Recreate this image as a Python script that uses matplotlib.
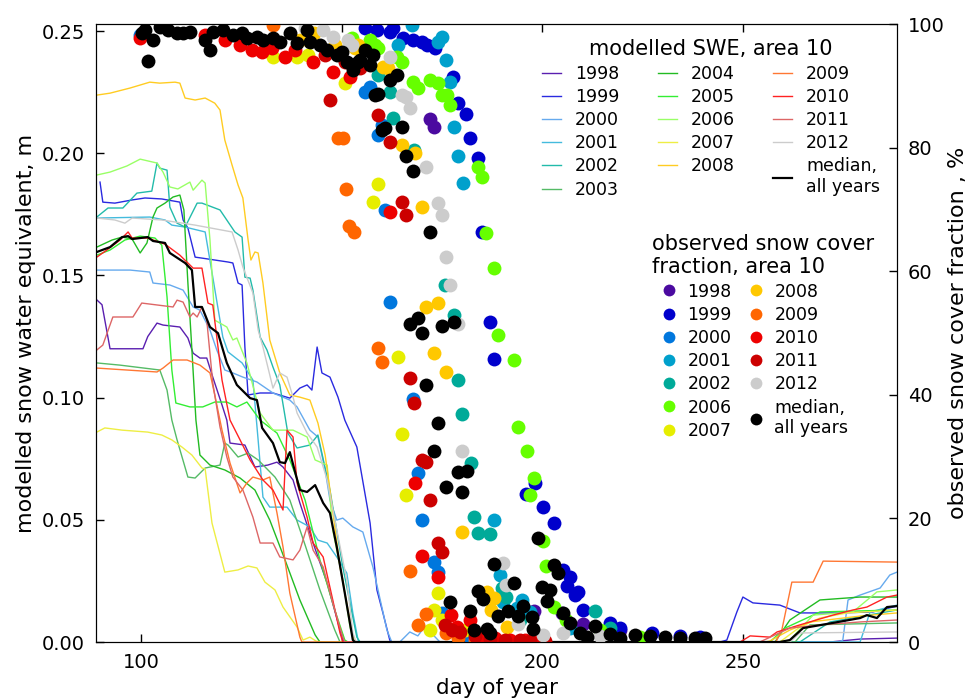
import matplotlib

matplotlib.use("Agg")
import matplotlib.pyplot as plt

# ---- modelled SWE (m), area 10 -------------------------------------------
swe_day_1998 = [89, 90.3, 92.3, 100.5, 101.7, 104, 105.5, 109.7, 111.7, 113, 114.7, 116.4, 117.9, 120.2, 121.4,
                122.2, 125.9, 128.4, 131.6, 133.9, 135.4, 137.9, 139.6, 142.9, 146.4, 150.3, 150.8, 271.7, 279.2, 288.4]
swe_1998 = [0.140, 0.138, 0.120, 0.120, 0.125, 0.1305, 0.1297, 0.1289, 0.1244, 0.1182, 0.1162, 0.1162, 0.1084, 0.097,
            0.0908, 0.0814, 0.0806, 0.0716, 0.0724, 0.0736, 0.0716, 0.0663, 0.0569, 0.0405, 0.0241, 0.0008, 0, 0, 0.0012, 0.0016]

swe_day_1999 = [89.8, 90.5, 93.5, 97.8, 101, 105.2, 109.7, 110.5, 111.7, 113.5, 115.2, 121.7, 122.9, 124.2, 125.2,
                125.9, 126.7, 129.7, 132.9, 137.1, 139.6, 141.4, 142.6, 143.9, 145.1, 147.1, 149.1, 150.8, 153.8,
                157.1, 158.8, 160.3, 162, 162.5, 244.3, 246, 248.5, 250, 252.5, 259.2, 264.2, 274.2, 282.4, 288.4]
swe_1999 = [0.1882, 0.180, 0.1796, 0.1809, 0.1817, 0.1813, 0.180, 0.1727, 0.1694, 0.1575, 0.1571, 0.1555, 0.1551,
            0.1469, 0.1461, 0.1207, 0.1011, 0.1019, 0.1019, 0.0998, 0.1039, 0.1052, 0.1031, 0.1207, 0.1101, 0.1084,
            0.1002, 0.0908, 0.0798, 0.0487, 0.0213, 0.0119, 0.0008, 0, 0, 0.0008, 0.0123, 0.0184, 0.016, 0.0151,
            0.0119, 0.0119, 0.0123, 0.0147]

swe_day_2000 = [89, 97.3, 102.2, 103, 107.2, 110.5, 113, 114.7, 117.2, 118.9, 120.9, 122.9, 125.4, 128.9, 132.9,
                137.1, 138.9, 142.1, 144.1, 145.9, 147.1, 148.8, 150.3, 152.8, 155.3, 157.8, 161.3, 162.5, 164.5,
                167, 169, 170.8, 172.8, 174.5, 274, 274.9, 276.2, 279.2, 284.2, 286.6, 288.4]
swe_2000 = [0.1522, 0.1522, 0.1514, 0.1469, 0.1461, 0.144, 0.1371, 0.1358, 0.1277, 0.1195, 0.1113, 0.1101, 0.1084,
            0.1064, 0.1019, 0.099, 0.0962, 0.0867, 0.0839, 0.0704, 0.0581, 0.0499, 0.0507, 0.0471, 0.045, 0.0307,
            0.0049, 0, 0, 0.0041, 0.0025, 0.0065, 0.0029, 0, 0, 0.0008, 0.0172, 0.0192, 0.0221, 0.0274, 0.0286]

swe_day_2001 = [89, 102.2, 106, 107.7, 111, 116, 117.9, 120.4, 121.7, 125.2, 127.9, 129.2, 130.4, 132.1, 136.4,
                138.9, 142.1, 144.1, 146.4, 148.8, 151.3, 152.8, 154.1, 154.6, 279.2, 281.7, 288.4]
swe_2001 = [0.1735, 0.1739, 0.1727, 0.1706, 0.1698, 0.1678, 0.1493, 0.1248, 0.1187, 0.1142, 0.1072, 0.0827, 0.0593,
            0.0552, 0.0552, 0.0499, 0.0471, 0.0417, 0.0405, 0.0348, 0.0282, 0.0119, 0.0008, 0, 0, 0.0123, 0.0151]

swe_day_2002 = [89, 91.8, 95.5, 99, 102.7, 104, 104.7, 106.5, 107.2, 109, 111, 114, 115.2, 119.7, 123.4, 125.2,
                125.9, 127.2, 127.9, 129.7, 131.4, 132.9, 134.6, 136.6, 138.9, 142.1, 144.1, 147.1, 150.3, 153.8,
                154.6, 264.2, 271.7, 288.4]
swe_2002 = [0.1739, 0.1776, 0.1776, 0.1837, 0.1845, 0.196, 0.1939, 0.1931, 0.178, 0.1714, 0.1698, 0.1796, 0.1796,
            0.1768, 0.1678, 0.1657, 0.1493, 0.1489, 0.144, 0.1248, 0.1195, 0.1125, 0.1052, 0.0855, 0.0794, 0.0806,
            0.0847, 0.0622, 0.0307, 0.002, 0, 0, 0.0082, 0.0131]

swe_day_2003 = [89, 94.8, 104.7, 106.5, 107.7, 109, 111.7, 113.5, 116, 119.7, 120.9, 121.7, 124.2, 126.7, 129.2,
                133.4, 137.1, 140.9, 144.6, 148.3, 149.6, 263, 266.7, 288.4]
swe_2003 = [0.1142, 0.1133, 0.1113, 0.1031, 0.0908, 0.0827, 0.0675, 0.0671, 0.0712, 0.0724, 0.0814, 0.0806, 0.0757,
            0.0773, 0.0745, 0.0675, 0.0581, 0.0397, 0.0213, 0.0049, 0, 0, 0.007, 0.0078]

swe_day_2004 = [89, 92.8, 95.3, 97.8, 99.8, 101.5, 103, 104, 106, 108, 109.7, 110.7, 111.7, 112.7, 113.7, 114.7,
                117.2, 120.9, 124.7, 128.4, 132.1, 135.9, 139.6, 143.4, 144.6, 258, 261.7, 269.2, 279.2, 288.4]
swe_2004 = [0.1616, 0.1645, 0.1657, 0.1649, 0.1592, 0.1633, 0.1739, 0.1776, 0.1796, 0.1821, 0.1829, 0.1768, 0.1469,
            0.1195, 0.0908, 0.0765, 0.0724, 0.0704, 0.0671, 0.0622, 0.0499, 0.0336, 0.0172, 0.0029, 0, 0, 0.009,
            0.0172, 0.0184, 0.0184]

swe_day_2005 = [89, 92.3, 96, 99.8, 103.5, 105.2, 106.5, 107.7, 108.7, 112.2, 115.4, 118.4, 121.4, 123.9, 126.4,
                129.7, 133.9, 137.1, 140.9, 144.6, 148.3, 150.8, 151.6, 256.7, 260.5, 269.2, 288.4]
swe_2005 = [0.1583, 0.1604, 0.1645, 0.1661, 0.1653, 0.1624, 0.1412, 0.1113, 0.0978, 0.0962, 0.0962, 0.0982, 0.0982,
            0.0962, 0.0982, 0.0908, 0.0855, 0.0745, 0.0581, 0.0336, 0.0131, 0.0008, 0, 0, 0.0057, 0.0123, 0.0131]

swe_day_2006 = [89, 92.3, 96.5, 99.8, 104, 105.5, 107.2, 109.2, 112.2, 113, 115.2, 116, 117.2, 118.4, 121.4, 122.9,
                123.9, 126.4, 129.7, 132.9, 137.9, 141.4, 143.4, 146.4, 147.8, 150.3, 152.1, 153.1, 261, 261.7,
                267.5, 277.4, 283.4, 288.4]
swe_2006 = [0.1911, 0.1923, 0.1948, 0.1976, 0.196, 0.1923, 0.1862, 0.1854, 0.1882, 0.1849, 0.189, 0.1878, 0.1645,
            0.1317, 0.1289, 0.1236, 0.1244, 0.1142, 0.0937, 0.0867, 0.0867, 0.0839, 0.0745, 0.0724, 0.0458, 0.0254,
            0.0061, 0, 0, 0.0008, 0.011, 0.0123, 0.0205, 0.0213]

swe_day_2007 = [89, 91, 95.3, 101.7, 105.2, 107.7, 110.2, 112.7, 115.2, 116, 117.7, 120.9, 124.2, 126.7, 128.9,
                130.9, 133.4, 135.4, 138.9, 140.4, 142.1, 143.6, 144.6, 259.2, 264.2, 269.2, 276, 288.4]
swe_2007 = [0.0859, 0.0876, 0.0867, 0.0859, 0.0847, 0.0827, 0.0798, 0.0765, 0.0712, 0.0708, 0.0487, 0.0286, 0.0295,
            0.0311, 0.0303, 0.0245, 0.0213, 0.0143, 0.0061, 0.0008, 0.002, 0.0004, 0, 0, 0.0061, 0.0098, 0.0119, 0.0131]

swe_day_2008 = [89, 92.3, 97.3, 102.2, 104.7, 108.5, 109.7, 111, 113.5, 116, 118.4, 119.7, 120.9, 122.7, 124.2,
                125.4, 126.7, 127.4, 128.4, 129.2, 130.4, 132.1, 134.6, 137.1, 139.6, 142.1, 144.1, 145.9, 147.1,
                149.6, 151.6, 152.8, 153.6, 255.5, 256.7, 261.7, 266.7, 279.2, 288.4]
swe_2008 = [0.2238, 0.2246, 0.2267, 0.2291, 0.2287, 0.2291, 0.2287, 0.2226, 0.2218, 0.2226, 0.2205, 0.2177, 0.2054,
            0.1952, 0.187, 0.1817, 0.1645, 0.1563, 0.1596, 0.1592, 0.1469, 0.1236, 0.1101, 0.1011, 0.1002, 0.099,
            0.0896, 0.0765, 0.0622, 0.0307, 0.0131, 0.002, 0, 0, 0.0004, 0.0049, 0.0082, 0.0106, 0.0119]

swe_day_2009 = [89, 104, 105.5, 108, 111.5, 114.7, 117.2, 118.4, 120.2, 122.2, 124.7, 126.4, 127.9, 130.4, 132.1,
                133.9, 135.4, 137.1, 139.6, 140.1, 258.2, 259.7, 262.2, 267.5, 270, 288.4]
swe_2009 = [0.1121, 0.1105, 0.1121, 0.1154, 0.1154, 0.1133, 0.1101, 0.1011, 0.0867, 0.0732, 0.061, 0.0651, 0.0675,
            0.0663, 0.0675, 0.0528, 0.0389, 0.020, 0.002, 0, 0, 0.0049, 0.0245, 0.0245, 0.0331, 0.0327]

swe_day_2010 = [89, 91.5, 94.8, 96.8, 97.8, 101.7, 106, 109.7, 113, 115.2, 116.7, 117.9, 118.9, 120.2, 122.2, 124.7,
                127.2, 130.4, 132.9, 135.4, 136.4, 137.9, 138.9, 141.4, 142.9, 145.4, 147.8, 149.6, 150.3, 249.3,
                251.8, 256.7, 258.5, 264.2, 272.4, 277.4, 280.9, 285.9, 288.4]
swe_2010 = [0.1575, 0.1604, 0.1645, 0.1678, 0.1653, 0.1653, 0.1628, 0.1583, 0.153, 0.153, 0.1387, 0.1379, 0.1248,
            0.1072, 0.0908, 0.0827, 0.0745, 0.0663, 0.0622, 0.054, 0.0867, 0.0839, 0.0651, 0.0511, 0.0405, 0.0348,
            0.0172, 0.0037, 0, 0, 0.0025, 0.002, 0.0041, 0.007, 0.011, 0.0131, 0.0143, 0.0184, 0.0192]

swe_day_2011 = [89, 90.5, 93, 98, 100.2, 108, 109, 110.5, 112.2, 113, 114, 115.2, 116.4, 117.9, 119.7, 121.4, 122.9,
                125.4, 127.9, 129.7, 132.9, 134.6, 137.9, 139.6, 141.4, 142.9, 145.4, 147.8, 150.3, 150.8, 254.2,
                261.7, 269.2, 279.2, 288.4]
swe_2011 = [0.1195, 0.1215, 0.133, 0.133, 0.1387, 0.1371, 0.1399, 0.1391, 0.133, 0.1346, 0.133, 0.1371, 0.1317,
            0.106, 0.088, 0.0757, 0.0675, 0.0622, 0.0511, 0.0405, 0.0405, 0.0348, 0.0336, 0.0376, 0.0471, 0.0376,
            0.0307, 0.016, 0.002, 0, 0, 0.0057, 0.007, 0.0082, 0.009]

swe_day_2012 = [89, 93.5, 96, 97.8, 105.2, 113.5, 122.7, 124.2, 125.4, 127.9, 129.2, 130.4, 132.9, 134.6, 136.4,
                137.9, 138.9, 141.4, 143.9, 146.4, 148.8, 151.3, 152.8, 153.6, 261.7, 264.2, 288.4]
swe_2012 = [0.1735, 0.1727, 0.1714, 0.1735, 0.1727, 0.1706, 0.1678, 0.1604, 0.1534, 0.1428, 0.1277, 0.1207, 0.1039,
            0.1101, 0.1084, 0.1002, 0.0937, 0.0855, 0.0798, 0.0663, 0.0458, 0.0254, 0.0037, 0, 0, 0.0037, 0.0041]

swe_day_median = [89, 92.3, 95.3, 96.8, 97.8, 101.7, 103, 106, 107.2, 111, 112.7, 113.5, 115.2, 117.2, 119.2,
                  121.4, 123.9, 127.2, 128.9, 130.2, 132.9, 134.6, 135.9, 137.1, 139.6, 141.4, 143.4, 145.4, 147.1,
                  148.8, 150.8, 152.8, 153.3, 259.2, 261.7, 265, 272.4, 279.2, 280.9, 283.4, 285.9, 288.4]
swe_median = [0.1596, 0.1616, 0.1657, 0.1661, 0.1649, 0.1657, 0.1641, 0.1633, 0.1592, 0.1551, 0.1522, 0.1371,
              0.1371, 0.1289, 0.1264, 0.1142, 0.1052, 0.0998, 0.099, 0.0876, 0.0814, 0.0736, 0.0732, 0.0777, 0.0622,
              0.0614, 0.0642, 0.0569, 0.0528, 0.0389, 0.020, 0.0008, 0, 0, 0.0008, 0.0057, 0.0078, 0.0098, 0.011,
              0.0098, 0.0143, 0.0147]

# ---- observed snow cover fraction (%), area 10 ----------------------------
obs_day_1998 = [172.0, 173.0, 197.9, 204.9, 210.1, 219.4]
obs_1998 = [84.6, 83.3, 5.0, 4.7, 2.9, 1.9]

obs_day_1999 = [155.8, 158.8, 162.0, 162.8, 165.3, 167.8, 170.0, 171.3, 173.3, 177.7, 179.0, 181.0, 182.0, 184.0,
                185.0, 187.0, 188.0, 195.9, 198.2, 200.2, 202.9, 205.2, 206.2, 206.9, 208.2, 208.9, 210.1, 216.9,
                219.4, 227.3, 234.3, 239.3]
obs_1999 = [99.4, 99.0, 98.7, 99.4, 97.7, 97.4, 97.1, 96.6, 96.1, 91.4, 87.2, 85.4, 81.6, 78.3, 66.3, 51.8, 45.8,
            23.9, 25.7, 21.8, 19.3, 11.7, 9.1, 10.5, 7.6, 8.1, 5.2, 3.1, 2.3, 1.5, 1.0, 0.8]

obs_day_2000 = [99.8, 155.8, 157.1, 159.1, 160.1, 160.8, 162.0, 167.8, 169.0, 170.0, 173.0, 174.0, 175.0, 182.0]
obs_2000 = [98.2, 89.0, 89.8, 82.0, 83.7, 69.9, 55.0, 39.3, 27.3, 19.7, 12.9, 11.3, 4.7, 0.8]

obs_day_2001 = [164.0, 167.5, 174.0, 175.0, 176.0, 177.0, 178.0, 179.0, 180.2, 188.0, 189.5, 190.2, 193.7, 194.9,
                196.9, 206.9]
obs_2001 = [96.6, 99.8, 97.1, 97.9, 94.2, 90.6, 83.3, 78.6, 74.3, 19.7, 10.8, 6.5, 5.5, 6.8, 4.9, 2.3]

obs_day_2002 = [159.1, 162.0, 162.8, 168.0, 175.8, 178.0, 179.0, 180.0, 182.2, 183.0, 184.0, 187.0, 190.0, 191.0,
                194.4, 213.1, 216.9]
obs_2002 = [91.7, 89.0, 84.8, 79.6, 57.8, 52.9, 42.4, 36.9, 29.0, 20.2, 17.6, 17.5, 8.7, 7.3, 3.6, 5.0, 2.3]

obs_day_2006 = [152.6, 157.1, 158.3, 159.1, 163.8, 165.0, 167.8, 169.0, 172.0, 174.0, 175.0, 176.3, 177.0, 184.0,
                185.0, 186.0, 188.0, 189.0, 193.0, 194.0, 196.2, 197.9, 196.9, 200.2, 200.9, 202.9, 205.9, 214.4,
                224.3]
obs_2006 = [97.7, 97.4, 96.6, 96.1, 94.7, 93.9, 90.6, 89.6, 90.9, 90.5, 88.5, 88.5, 86.9, 76.9, 75.2, 66.2, 60.5,
            49.7, 45.6, 34.8, 30.9, 26.5, 23.8, 16.3, 12.3, 5.7, 3.6, 1.9, 0.8]

obs_day_2007 = [132.9, 138.9, 141.6, 150.8, 157.8, 159.1, 164.0, 165.0, 166.0, 174.0, 173.0, 175.0, 180.7, 172.0]
obs_2007 = [94.7, 94.7, 95.0, 90.5, 71.2, 74.1, 46.1, 33.7, 23.8, 7.9, 5.2, 3.6, 1.9, 1.9]

obs_day_2008 = [139.6, 143.1, 148.3, 153.3, 154.1, 160.3, 161.5, 165.0, 168.3, 170.0, 171.0, 174.0, 173.0, 176.0,
                180.0, 186.2, 188.0, 187.2, 191.2]
obs_2008 = [97.4, 98.5, 96.6, 96.1, 96.6, 93.0, 92.9, 80.4, 79.1, 70.4, 54.2, 54.9, 46.8, 43.7, 17.8, 8.1, 7.1, 5.2,
            2.4]

obs_day_2009 = [132.9, 149.1, 150.3, 151.1, 151.8, 153.1, 159.1, 160.1, 167.0, 171.0, 169.0, 176.0, 179.0, 183.2]
obs_2009 = [99.8, 81.6, 81.6, 73.3, 67.3, 66.3, 47.6, 45.3, 11.5, 4.5, 2.8, 1.5, 0.6, 0.3]

obs_day_2010 = [99.8, 115.9, 120.9, 124.7, 127.7, 130.2, 132.6, 135.9, 138.4, 142.9, 147.8, 152.1, 153.3, 162.0,
                168.3, 170.0, 174.0, 177.2, 178.7, 182.0, 184.5, 188.2, 192.0, 195.7, 199.4]
obs_2010 = [97.7, 98.2, 97.4, 96.6, 95.8, 95.5, 96.1, 94.7, 95.8, 93.9, 92.2, 91.4, 93.4, 69.6, 25.7, 13.9, 10.5,
            4.4, 2.4, 3.6, 0.8, 0.6, 0.3, 0.3, 0.3]

obs_day_2011 = [145.9, 150.8, 154.6, 147.1, 159.1, 162.0, 165.0, 166.0, 167.0, 168.0, 170.0, 171.0, 172.0, 174.0,
                175.0, 175.8, 177.5, 179.5, 183.2, 187.0, 190.7, 194.4, 196.9, 200.7]
obs_2011 = [95.0, 93.9, 92.9, 87.7, 85.3, 80.9, 71.2, 69.1, 42.7, 38.7, 29.4, 29.1, 23.0, 16.0, 14.6, 2.8, 1.9, 1.6,
            1.0, 0.5, 0.3, 0.3, 0.2, 0.2]

obs_day_2012 = [140.9, 145.4, 147.8, 151.6, 152.6, 162.0, 165.0, 166.0, 167.0, 171.0, 174.0, 175.0, 176.0, 177.0,
                179.0, 180.0, 190.2, 191.0, 194.0, 200.2, 205.2, 214.4]
obs_2012 = [99.4, 99.0, 97.9, 97.4, 96.6, 94.7, 88.5, 88.2, 86.4, 76.9, 71.0, 69.1, 62.3, 57.8, 51.5, 30.9, 12.8,
            9.2, 2.9, 1.1, 1.5, 1.0]

obs_day_median = [100.2, 101.0, 101.7, 103.0, 104.7, 106.7, 109.0, 110.5, 112.2, 116.0, 117.2, 117.9, 120.4, 122.9,
                  125.2, 126.4, 128.9, 130.4, 132.9, 134.6, 137.1, 138.9, 141.4, 142.1, 144.6, 146.4, 148.8, 150.1,
                  151.3, 152.8, 154.1, 154.6, 155.8, 157.1, 157.8, 162.0, 163.8, 158.3, 159.1, 160.1, 160.8, 165.0,
                  166.0, 167.8, 172.0, 167.0, 169.0, 170.0, 175.0, 178.0, 171.0, 174.0, 173.0, 179.0, 181.2, 176.0,
                  180.0, 198.9, 188.0, 202.9, 203.9, 193.0, 199.9, 201.9, 184.0, 185.2, 201.2, 177.0, 195.2, 191.5,
                  182.0, 189.0, 194.0, 197.4, 205.2, 206.9, 213.1, 197.7, 183.0, 187.0, 186.2, 209.4, 211.1, 216.9,
                  219.4, 223.1, 226.8, 230.6, 234.3, 238.1, 240.5]
obs_median = [98.5, 99.0, 94.0, 97.4, 99.5, 99.0, 98.5, 98.5, 98.7, 97.4, 95.8, 98.7, 99.0, 98.2, 98.5, 97.7, 97.9,
              97.4, 97.7, 97.1, 98.5, 96.9, 99.0, 97.1, 96.6, 95.8, 95.0, 95.5, 93.9, 92.6, 93.9, 94.2, 95.8, 93.4,
              95.0, 90.9, 91.7, 88.5, 88.7, 82.8, 83.2, 83.3, 78.6, 76.2, 66.3, 51.5, 52.4, 50.0, 51.1, 51.8, 41.6,
              35.4, 30.9, 27.5, 27.7, 25.1, 24.3, 16.8, 12.6, 12.5, 11.2, 9.5, 8.9, 8.4, 8.3, 7.0, 6.6, 6.5, 5.8,
              5.0, 5.0, 4.2, 4.2, 4.0, 4.7, 3.1, 2.6, 2.1, 1.9, 1.5, 2.1, 1.5, 0.8, 1.3, 0.6, 1.1, 1.0, 0.8, 0.6,
              0.6, 0.6]

SWE_COLOR = {1998: "#5a1fb0", 1999: "#2a2ae0", 2000: "#66aaee", 2001: "#44bbdd", 2002: "#22bbaa",
             2003: "#55bb66", 2004: "#22bb22", 2005: "#33ee33", 2006: "#99ff66", 2007: "#eeee44",
             2008: "#ffcc22", 2009: "#ff7733", 2010: "#ff2222", 2011: "#dd6666", 2012: "#cccccc"}
OBS_COLOR = {1998: "#4b0aa0", 1999: "#0000cc", 2000: "#0077dd", 2001: "#00a0cc", 2002: "#00aa99",
             2006: "#66ff00", 2007: "#e6ee00", 2008: "#ffc800", 2009: "#ff6600", 2010: "#ee0000",
             2011: "#cc0000", 2012: "#cccccc"}

swe_series = [
    (1998, swe_day_1998, swe_1998), (1999, swe_day_1999, swe_1999), (2000, swe_day_2000, swe_2000),
    (2001, swe_day_2001, swe_2001), (2002, swe_day_2002, swe_2002), (2003, swe_day_2003, swe_2003),
    (2004, swe_day_2004, swe_2004), (2005, swe_day_2005, swe_2005), (2006, swe_day_2006, swe_2006),
    (2007, swe_day_2007, swe_2007), (2008, swe_day_2008, swe_2008), (2009, swe_day_2009, swe_2009),
    (2010, swe_day_2010, swe_2010), (2011, swe_day_2011, swe_2011), (2012, swe_day_2012, swe_2012),
]
obs_series = [
    (1998, obs_day_1998, obs_1998), (1999, obs_day_1999, obs_1999), (2000, obs_day_2000, obs_2000),
    (2001, obs_day_2001, obs_2001), (2002, obs_day_2002, obs_2002), (2006, obs_day_2006, obs_2006),
    (2007, obs_day_2007, obs_2007), (2008, obs_day_2008, obs_2008), (2009, obs_day_2009, obs_2009),
    (2010, obs_day_2010, obs_2010), (2011, obs_day_2011, obs_2011), (2012, obs_day_2012, obs_2012),
]

plt.rcParams["font.family"] = "DejaVu Sans"

fig = plt.figure(figsize=(9.73, 7.0), dpi=100)
ax = fig.add_axes([96 / 973, 58 / 700, 801 / 973, 618 / 700])
ax2 = ax.twinx()

swe_handles = []
for year, d, v in swe_series:
    h, = ax.plot(d, v, color=SWE_COLOR[year], lw=1.0, label=str(year))
    swe_handles.append(h)
h, = ax.plot(swe_day_median, swe_median, color="black", lw=1.6, label="median,\nall years")
swe_handles.append(h)

obs_handles = []
for year, d, v in obs_series:
    h, = ax2.plot(d, v, "o", color=OBS_COLOR[year], ms=10, mec="none", label=str(year))
    obs_handles.append(h)
h, = ax2.plot(obs_day_median, obs_median, "o", color="black", ms=10, mec="none", label="median,\nall years")
obs_handles.append(h)

ax.set_xlim(88.8, 288.4)
ax.set_ylim(0, 0.2529)
ax2.set_ylim(0, 100)
ax.set_xticks([100, 150, 200, 250])
ax.set_yticks([0, 0.05, 0.10, 0.15, 0.20, 0.25])
ax.set_yticklabels(["0.00", "0.05", "0.10", "0.15", "0.20", "0.25"])
ax2.set_yticks([0, 20, 40, 60, 80, 100])

ax.tick_params(axis="x", direction="in", top=True, length=6, width=1, labelsize=14, pad=8)
ax.tick_params(axis="y", direction="in", length=6, width=1, labelsize=14, pad=8)
ax2.tick_params(axis="y", direction="in", length=6, width=1, labelsize=14, pad=8)

ax.set_xlabel("day of year", fontsize=15.5)
ax.set_ylabel("modelled snow water equivalent, m", fontsize=16)
ax2.set_ylabel("observed snow cover fraction , %", fontsize=16, labelpad=2)

leg1 = ax2.legend(handles=swe_handles, title="modelled SWE, area 10", ncol=3, frameon=False,
                  loc="upper left", bbox_to_anchor=(0.557, 0.975), fontsize=12.5, title_fontsize=15,
                  handlelength=1.1, handletextpad=0.8, columnspacing=2.2, labelspacing=0.3,
                  borderpad=0, borderaxespad=0)
ax2.add_artist(leg1)
leg2 = ax2.legend(handles=obs_handles, title="observed snow cover\nfraction, area 10", ncol=2, frameon=False,
                  loc="upper left", bbox_to_anchor=(0.694, 0.66), fontsize=12.5, title_fontsize=15,
                  handlelength=2.0, handletextpad=0.05, columnspacing=0.4, labelspacing=0.3,
                  markerscale=0.85, borderpad=0, borderaxespad=0, alignment="left")
leg2.get_title().set_multialignment("left")

fig.savefig("out.png", dpi=100)
